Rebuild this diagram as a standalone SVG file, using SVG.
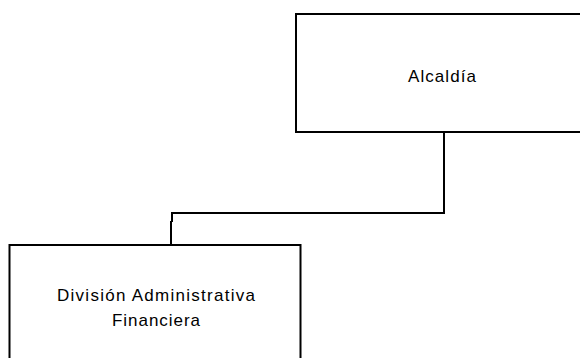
<svg xmlns="http://www.w3.org/2000/svg" width="580" height="358" viewBox="0 0 580 358">
<style>
.box{fill:#fff;stroke:#000;stroke-width:2}
.lbl{font-family:"Liberation Sans",Arial,sans-serif;font-size:17px;fill:#000;text-anchor:middle}
.con{fill:none;stroke:#000;stroke-width:2}
</style>
<rect width="580" height="358" fill="#fff"/>
<g id="connectors">
<path class="con" d="M444,132 V213 H172 V222 M171,221 V245"/>
</g>
<g id="alcaldia">
<rect class="box" x="296" y="14" width="292" height="118"/>
<text class="lbl" x="442" y="82" textLength="68" lengthAdjust="spacing">Alcaldía</text>
</g>
<g id="division">
<rect class="box" x="9.5" y="245" width="291" height="130"/>
<text class="lbl" x="156" y="301" textLength="198" lengthAdjust="spacing">División Administrativa</text>
<text class="lbl" x="156" y="326" textLength="88" lengthAdjust="spacing">Financiera</text>
</g>
</svg>
